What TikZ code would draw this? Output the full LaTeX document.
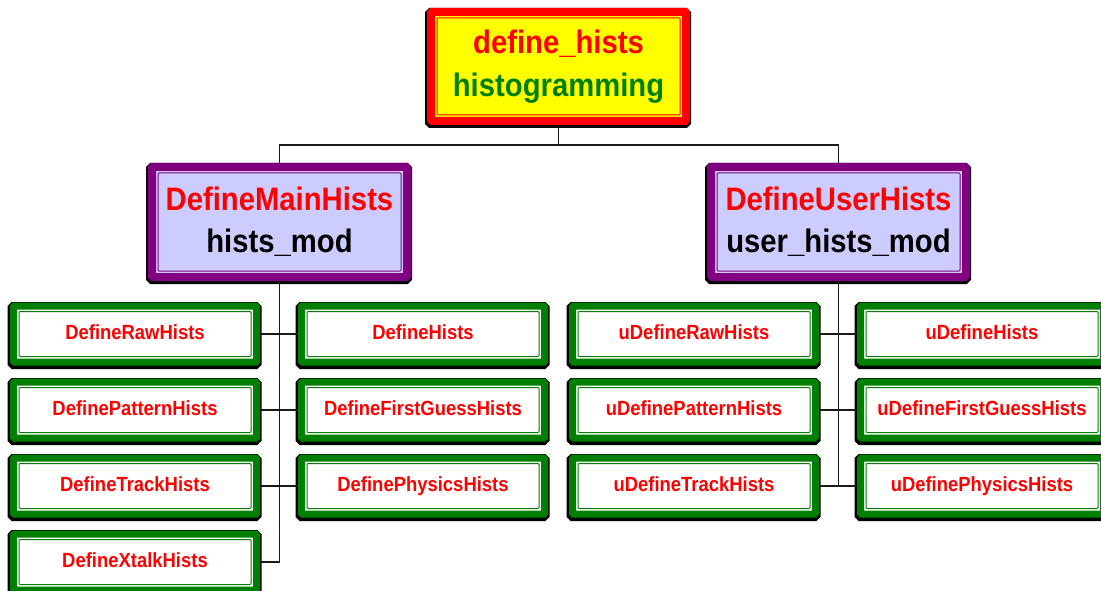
\documentclass[tikz,border=0pt]{standalone}
\usepackage{fontspec}
\setmainfont{Liberation Sans}
\newfontfamily\boxfont[FakeStretch=0.9]{Liberation Sans}
\usetikzlibrary{positioning}

\definecolor{hred}{HTML}{FF0000}
\definecolor{hgreen}{HTML}{008000}
\definecolor{hpurple}{HTML}{800080}
\definecolor{hlav}{HTML}{CCCCFF}
\definecolor{hyellow}{HTML}{FFFF00}
\definecolor{hline}{HTML}{1A1A1A}

\begin{document}
\begin{tikzpicture}[x=1pt, y=-1pt,
    frame/.style n args={3}{rectangle, rounded corners=1pt, draw=#1, fill=#2,
        inner sep=0pt, align=center, text=hred,
        preaction={draw=black, fill=black, line width=11pt,
                   transform canvas={shift={(-0.5pt,-1.5pt)}}},
        path picture={\draw[draw=#1, line width=1pt, rounded corners=1pt]
            ([shift={(#3,-#3)}]path picture bounding box.north west) rectangle
            ([shift={(-#3,#3)}]path picture bounding box.south east);}},
    topbox/.style={frame={hred}{hyellow}{6pt}, line width=8pt,
        minimum width=255pt, minimum height=109pt,
        font=\boxfont\bfseries\fontsize{32.5}{43}\selectfont},
    modbox/.style={frame={hpurple}{hlav}{6pt}, line width=8pt,
        minimum width=255pt, minimum height=110pt,
        font=\boxfont\bfseries\fontsize{32.5}{42}\selectfont},
    subbox/.style={frame={hgreen}{white}{5.5pt}, line width=7pt,
        minimum width=243pt, minimum height=56pt,
        text height=15pt, text depth=4pt,
        font=\boxfont\bfseries\fontsize{20.5}{24}\selectfont},
    conn/.style={draw=hline, line width=1.5pt}]

    \useasboundingbox (0,0) rectangle (1101,591);

    % top
    \node[topbox] (top) at (558.5,66.5)
        {define\_hists\\\textcolor{hgreen}{histogramming}};

    % modules
    \node[modbox] (mainh) at (279.5,222)
        {DefineMainHists\\\textcolor{black}{hists\_mod}};
    \node[modbox] (userh) at (838.5,222)
        {DefineUserHists\\\textcolor{black}{user\_hists\_mod}};

    % left group
    \node[subbox] (raw)   at (135,334) {DefineRawHists};
    \node[subbox] (patt)  at (135,410) {DefinePatternHists};
    \node[subbox] (track) at (135,486) {DefineTrackHists};
    \node[subbox] (xtalk) at (135,562) {DefineXtalkHists};
    \node[subbox] (defh)  at (423,334) {DefineHists};
    \node[subbox] (first) at (423,410) {DefineFirstGuessHists};
    \node[subbox] (phys)  at (423,486) {DefinePhysicsHists};

    % right group
    \node[subbox] (uraw)   at (694,334) {uDefineRawHists};
    \node[subbox] (upatt)  at (694,410) {uDefinePatternHists};
    \node[subbox] (utrack) at (694,486) {uDefineTrackHists};
    \node[subbox] (udefh)  at (982,334) {uDefineHists};
    \node[subbox] (ufirst) at (982,410) {uDefineFirstGuessHists};
    \node[subbox] (uphys)  at (982,486) {uDefinePhysicsHists};

    % trunks and stubs
    \coordinate (bus) at (558.5,145);
    \draw[conn] (top.south) -- (bus);
    \draw[conn] (bus) -| (mainh.north);
    \draw[conn] (bus) -| (userh.north);
    \draw[conn] (mainh.south) |- (xtalk.east);
    \draw[conn] (userh.south) -- (userh.south |- utrack.east);
    \foreach \a/\b in {raw/defh, patt/first, track/phys,
                       uraw/udefh, upatt/ufirst, utrack/uphys}
        \draw[conn] (\a.east) -- (\b.west);
\end{tikzpicture}
\end{document}
